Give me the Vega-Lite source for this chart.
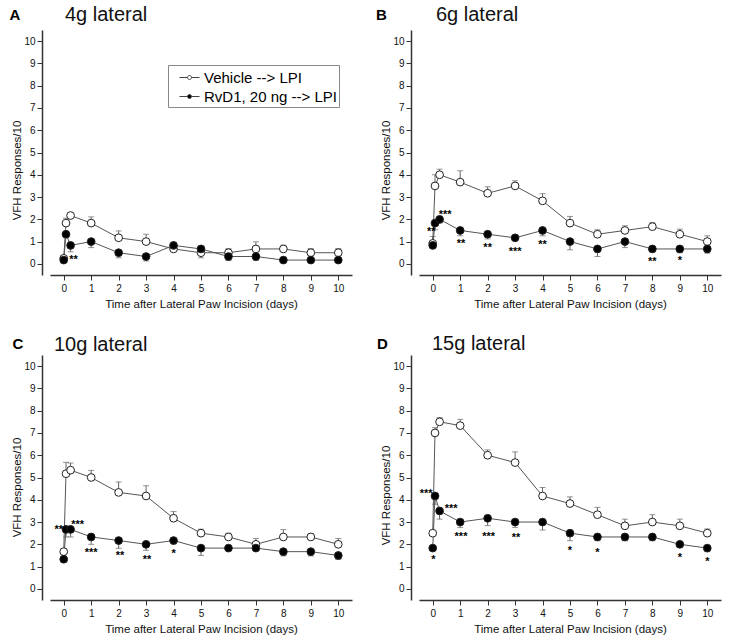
{
  "$schema": "https://vega.github.io/schema/vega-lite/v6.json",
  "padding": {"left": 9, "top": 4, "right": 5, "bottom": 5},
  "background": "white",
  "config": {
    "font": "Liberation Sans",
    "view": {"stroke": null},
    "axis": {
      "grid": false,
      "domainColor": "#333",
      "domainWidth": 1.5,
      "tickColor": "#333",
      "tickWidth": 1,
      "tickSize": 5,
      "labelFontSize": 10,
      "labelColor": "#111",
      "titleFontSize": 11.5,
      "titleFontWeight": "normal",
      "titleColor": "#111"
    }
  },
  "datasets": {
    "d": [
      {"panel": "A", "group": "Vehicle --> LPI", "day": 0, "v": 0.25, "e": 0.25},
      {"panel": "A", "group": "Vehicle --> LPI", "day": 0.083, "v": 1.83, "e": 2.05},
      {"panel": "A", "group": "Vehicle --> LPI", "day": 0.25, "v": 2.17, "e": 2.17},
      {"panel": "A", "group": "Vehicle --> LPI", "day": 1, "v": 1.83, "e": 2.11},
      {"panel": "A", "group": "Vehicle --> LPI", "day": 2, "v": 1.17, "e": 1.48},
      {"panel": "A", "group": "Vehicle --> LPI", "day": 3, "v": 1.0, "e": 1.33},
      {"panel": "A", "group": "Vehicle --> LPI", "day": 4, "v": 0.67, "e": 0.67},
      {"panel": "A", "group": "Vehicle --> LPI", "day": 5, "v": 0.5, "e": 0.5},
      {"panel": "A", "group": "Vehicle --> LPI", "day": 6, "v": 0.5, "e": 0.69},
      {"panel": "A", "group": "Vehicle --> LPI", "day": 7, "v": 0.67, "e": 0.99},
      {"panel": "A", "group": "Vehicle --> LPI", "day": 8, "v": 0.67, "e": 0.84},
      {"panel": "A", "group": "Vehicle --> LPI", "day": 9, "v": 0.5, "e": 0.69},
      {"panel": "A", "group": "Vehicle --> LPI", "day": 10, "v": 0.5, "e": 0.69},
      {"panel": "A", "group": "RvD1, 20 ng --> LPI", "day": 0, "v": 0.17, "e": 0.17},
      {"panel": "A", "group": "RvD1, 20 ng --> LPI", "day": 0.083, "v": 1.33, "e": 1.33},
      {"panel": "A", "group": "RvD1, 20 ng --> LPI", "day": 0.25, "v": 0.83, "e": 0.54},
      {"panel": "A", "group": "RvD1, 20 ng --> LPI", "day": 1, "v": 1.0, "e": 0.73},
      {"panel": "A", "group": "RvD1, 20 ng --> LPI", "day": 2, "v": 0.5, "e": 0.27},
      {"panel": "A", "group": "RvD1, 20 ng --> LPI", "day": 3, "v": 0.33, "e": 0.13},
      {"panel": "A", "group": "RvD1, 20 ng --> LPI", "day": 4, "v": 0.83, "e": 0.83},
      {"panel": "A", "group": "RvD1, 20 ng --> LPI", "day": 5, "v": 0.67, "e": 0.27},
      {"panel": "A", "group": "RvD1, 20 ng --> LPI", "day": 6, "v": 0.33, "e": 0.15},
      {"panel": "A", "group": "RvD1, 20 ng --> LPI", "day": 7, "v": 0.33, "e": 0.15},
      {"panel": "A", "group": "RvD1, 20 ng --> LPI", "day": 8, "v": 0.17, "e": 0.17},
      {"panel": "A", "group": "RvD1, 20 ng --> LPI", "day": 9, "v": 0.17, "e": 0.17},
      {"panel": "A", "group": "RvD1, 20 ng --> LPI", "day": 10, "v": 0.17, "e": 0.17},

      {"panel": "B", "group": "Vehicle --> LPI", "day": 0, "v": 0.92, "e": 1.23},
      {"panel": "B", "group": "Vehicle --> LPI", "day": 0.083, "v": 3.5, "e": 4.0},
      {"panel": "B", "group": "Vehicle --> LPI", "day": 0.25, "v": 4.0, "e": 4.25},
      {"panel": "B", "group": "Vehicle --> LPI", "day": 1, "v": 3.67, "e": 4.18},
      {"panel": "B", "group": "Vehicle --> LPI", "day": 2, "v": 3.17, "e": 3.46},
      {"panel": "B", "group": "Vehicle --> LPI", "day": 3, "v": 3.5, "e": 3.73},
      {"panel": "B", "group": "Vehicle --> LPI", "day": 4, "v": 2.83, "e": 3.15},
      {"panel": "B", "group": "Vehicle --> LPI", "day": 5, "v": 1.83, "e": 2.13},
      {"panel": "B", "group": "Vehicle --> LPI", "day": 6, "v": 1.33, "e": 1.53},
      {"panel": "B", "group": "Vehicle --> LPI", "day": 7, "v": 1.5, "e": 1.71},
      {"panel": "B", "group": "Vehicle --> LPI", "day": 8, "v": 1.67, "e": 1.86},
      {"panel": "B", "group": "Vehicle --> LPI", "day": 9, "v": 1.33, "e": 1.56},
      {"panel": "B", "group": "Vehicle --> LPI", "day": 10, "v": 1.0, "e": 1.26},
      {"panel": "B", "group": "RvD1, 20 ng --> LPI", "day": 0, "v": 0.83, "e": 0.83},
      {"panel": "B", "group": "RvD1, 20 ng --> LPI", "day": 0.083, "v": 1.83, "e": 1.53},
      {"panel": "B", "group": "RvD1, 20 ng --> LPI", "day": 0.25, "v": 2.0, "e": 1.83},
      {"panel": "B", "group": "RvD1, 20 ng --> LPI", "day": 1, "v": 1.5, "e": 1.26},
      {"panel": "B", "group": "RvD1, 20 ng --> LPI", "day": 2, "v": 1.33, "e": 1.12},
      {"panel": "B", "group": "RvD1, 20 ng --> LPI", "day": 3, "v": 1.17, "e": 1.17},
      {"panel": "B", "group": "RvD1, 20 ng --> LPI", "day": 4, "v": 1.5, "e": 1.26},
      {"panel": "B", "group": "RvD1, 20 ng --> LPI", "day": 5, "v": 1.0, "e": 0.63},
      {"panel": "B", "group": "RvD1, 20 ng --> LPI", "day": 6, "v": 0.67, "e": 0.33},
      {"panel": "B", "group": "RvD1, 20 ng --> LPI", "day": 7, "v": 1.0, "e": 0.73},
      {"panel": "B", "group": "RvD1, 20 ng --> LPI", "day": 8, "v": 0.67, "e": 0.67},
      {"panel": "B", "group": "RvD1, 20 ng --> LPI", "day": 9, "v": 0.67, "e": 0.5},
      {"panel": "B", "group": "RvD1, 20 ng --> LPI", "day": 10, "v": 0.67, "e": 0.48},

      {"panel": "C", "group": "Vehicle --> LPI", "day": 0, "v": 1.67, "e": 1.67},
      {"panel": "C", "group": "Vehicle --> LPI", "day": 0.083, "v": 5.17, "e": 5.68},
      {"panel": "C", "group": "Vehicle --> LPI", "day": 0.25, "v": 5.33, "e": 5.65},
      {"panel": "C", "group": "Vehicle --> LPI", "day": 1, "v": 5.0, "e": 5.32},
      {"panel": "C", "group": "Vehicle --> LPI", "day": 2, "v": 4.33, "e": 4.8},
      {"panel": "C", "group": "Vehicle --> LPI", "day": 3, "v": 4.17, "e": 4.63},
      {"panel": "C", "group": "Vehicle --> LPI", "day": 4, "v": 3.17, "e": 3.47},
      {"panel": "C", "group": "Vehicle --> LPI", "day": 5, "v": 2.5, "e": 2.68},
      {"panel": "C", "group": "Vehicle --> LPI", "day": 6, "v": 2.33, "e": 2.5},
      {"panel": "C", "group": "Vehicle --> LPI", "day": 7, "v": 2.0, "e": 2.26},
      {"panel": "C", "group": "Vehicle --> LPI", "day": 8, "v": 2.33, "e": 2.66},
      {"panel": "C", "group": "Vehicle --> LPI", "day": 9, "v": 2.33, "e": 2.48},
      {"panel": "C", "group": "Vehicle --> LPI", "day": 10, "v": 2.0, "e": 2.26},
      {"panel": "C", "group": "RvD1, 20 ng --> LPI", "day": 0, "v": 1.33, "e": 1.33},
      {"panel": "C", "group": "RvD1, 20 ng --> LPI", "day": 0.083, "v": 2.67, "e": 2.33},
      {"panel": "C", "group": "RvD1, 20 ng --> LPI", "day": 0.25, "v": 2.67, "e": 2.33},
      {"panel": "C", "group": "RvD1, 20 ng --> LPI", "day": 1, "v": 2.33, "e": 2.0},
      {"panel": "C", "group": "RvD1, 20 ng --> LPI", "day": 2, "v": 2.17, "e": 1.82},
      {"panel": "C", "group": "RvD1, 20 ng --> LPI", "day": 3, "v": 2.0, "e": 1.73},
      {"panel": "C", "group": "RvD1, 20 ng --> LPI", "day": 4, "v": 2.17, "e": 2.02},
      {"panel": "C", "group": "RvD1, 20 ng --> LPI", "day": 5, "v": 1.83, "e": 1.5},
      {"panel": "C", "group": "RvD1, 20 ng --> LPI", "day": 6, "v": 1.83, "e": 1.83},
      {"panel": "C", "group": "RvD1, 20 ng --> LPI", "day": 7, "v": 1.83, "e": 1.83},
      {"panel": "C", "group": "RvD1, 20 ng --> LPI", "day": 8, "v": 1.67, "e": 1.48},
      {"panel": "C", "group": "RvD1, 20 ng --> LPI", "day": 9, "v": 1.67, "e": 1.48},
      {"panel": "C", "group": "RvD1, 20 ng --> LPI", "day": 10, "v": 1.5, "e": 1.32},

      {"panel": "D", "group": "Vehicle --> LPI", "day": 0, "v": 2.5, "e": 2.5},
      {"panel": "D", "group": "Vehicle --> LPI", "day": 0.083, "v": 7.0, "e": 7.24},
      {"panel": "D", "group": "Vehicle --> LPI", "day": 0.25, "v": 7.5, "e": 7.69},
      {"panel": "D", "group": "Vehicle --> LPI", "day": 1, "v": 7.33, "e": 7.61},
      {"panel": "D", "group": "Vehicle --> LPI", "day": 2, "v": 6.0, "e": 6.24},
      {"panel": "D", "group": "Vehicle --> LPI", "day": 3, "v": 5.67, "e": 6.15},
      {"panel": "D", "group": "Vehicle --> LPI", "day": 4, "v": 4.17, "e": 4.55},
      {"panel": "D", "group": "Vehicle --> LPI", "day": 5, "v": 3.83, "e": 4.13},
      {"panel": "D", "group": "Vehicle --> LPI", "day": 6, "v": 3.33, "e": 3.66},
      {"panel": "D", "group": "Vehicle --> LPI", "day": 7, "v": 2.83, "e": 3.13},
      {"panel": "D", "group": "Vehicle --> LPI", "day": 8, "v": 3.0, "e": 3.33},
      {"panel": "D", "group": "Vehicle --> LPI", "day": 9, "v": 2.83, "e": 3.13},
      {"panel": "D", "group": "Vehicle --> LPI", "day": 10, "v": 2.5, "e": 2.69},
      {"panel": "D", "group": "RvD1, 20 ng --> LPI", "day": 0, "v": 1.83, "e": 1.83},
      {"panel": "D", "group": "RvD1, 20 ng --> LPI", "day": 0.083, "v": 4.17, "e": 3.8},
      {"panel": "D", "group": "RvD1, 20 ng --> LPI", "day": 0.25, "v": 3.5, "e": 3.13},
      {"panel": "D", "group": "RvD1, 20 ng --> LPI", "day": 1, "v": 3.0, "e": 2.76},
      {"panel": "D", "group": "RvD1, 20 ng --> LPI", "day": 2, "v": 3.17, "e": 2.84},
      {"panel": "D", "group": "RvD1, 20 ng --> LPI", "day": 3, "v": 3.0, "e": 2.76},
      {"panel": "D", "group": "RvD1, 20 ng --> LPI", "day": 4, "v": 3.0, "e": 2.64},
      {"panel": "D", "group": "RvD1, 20 ng --> LPI", "day": 5, "v": 2.5, "e": 2.16},
      {"panel": "D", "group": "RvD1, 20 ng --> LPI", "day": 6, "v": 2.33, "e": 2.16},
      {"panel": "D", "group": "RvD1, 20 ng --> LPI", "day": 7, "v": 2.33, "e": 2.16},
      {"panel": "D", "group": "RvD1, 20 ng --> LPI", "day": 8, "v": 2.33, "e": 2.16},
      {"panel": "D", "group": "RvD1, 20 ng --> LPI", "day": 9, "v": 2.0, "e": 1.87},
      {"panel": "D", "group": "RvD1, 20 ng --> LPI", "day": 10, "v": 1.83, "e": 1.67}
    ],
    "stars": [
      {"panel": "A", "day": 0.36, "y": 0.33, "s": "**"},
      {"panel": "B", "day": -0.05, "y": 1.55, "s": "**"},
      {"panel": "B", "day": 0.45, "y": 2.35, "s": "***"},
      {"panel": "B", "day": 1.03, "y": 1.03, "s": "**"},
      {"panel": "B", "day": 2.0, "y": 0.85, "s": "**"},
      {"panel": "B", "day": 3.0, "y": 0.67, "s": "***"},
      {"panel": "B", "day": 4.0, "y": 1.0, "s": "**"},
      {"panel": "B", "day": 8.0, "y": 0.2, "s": "**"},
      {"panel": "B", "day": 9.0, "y": 0.25, "s": "*"},
      {"panel": "C", "day": -0.18, "y": 2.78, "s": "**"},
      {"panel": "C", "day": 0.51, "y": 3.0, "s": "***"},
      {"panel": "C", "day": 1.0, "y": 1.74, "s": "***"},
      {"panel": "C", "day": 2.05, "y": 1.59, "s": "**"},
      {"panel": "C", "day": 3.03, "y": 1.41, "s": "**"},
      {"panel": "C", "day": 4.0, "y": 1.69, "s": "*"},
      {"panel": "D", "day": -0.24, "y": 4.4, "s": "***"},
      {"panel": "D", "day": 0.67, "y": 3.73, "s": "***"},
      {"panel": "D", "day": 0.02, "y": 1.42, "s": "*"},
      {"panel": "D", "day": 1.03, "y": 2.46, "s": "***"},
      {"panel": "D", "day": 2.04, "y": 2.46, "s": "***"},
      {"panel": "D", "day": 3.03, "y": 2.43, "s": "**"},
      {"panel": "D", "day": 5.0, "y": 1.82, "s": "*"},
      {"panel": "D", "day": 6.0, "y": 1.75, "s": "*"},
      {"panel": "D", "day": 9.0, "y": 1.52, "s": "*"},
      {"panel": "D", "day": 10.0, "y": 1.34, "s": "*"}
    ],
    "letters": [
      {"panel": "A", "t": "A"},
      {"panel": "B", "t": "B"},
      {"panel": "C", "t": "C"},
      {"panel": "D", "t": "D"}
    ]
  },
  "data": {"name": "d"},
  "columns": 2,
  "bounds": "flush",
  "spacing": {"row": 80, "column": 67},
  "resolve": {"scale": {"fill": "independent"}, "legend": {"fill": "independent"}},
  "concat": [
    {
      "width": 302, "height": 245,
      "title": {"text": "4g lateral", "anchor": "start", "frame": "group", "dx": 15, "fontSize": 20, "fontWeight": "normal", "baseline": "alphabetic", "offset": -33, "color": "#111"},
      "transform": [{"filter": "datum.panel === 'A'"}],
      "layer": [
        {
          "encoding": {
            "x": {"field": "day", "type": "quantitative", "scale": {"domain": [-0.5, 10.5], "nice": false, "zero": false}, "axis": {"values": [0,1,2,3,4,5,6,7,8,9,10], "title": "Time after Lateral Paw Incision (days)", "labelPadding": 3, "titlePadding": 5}},
            "y": {"field": "v", "type": "quantitative", "scale": {"domain": [-0.5, 10.5], "nice": false, "zero": false}, "axis": {"values": [0,1,2,3,4,5,6,7,8,9,10], "title": "VFH Responses/10", "offset": 8, "labelPadding": 2, "titlePadding": 1, "titleY": 140}}
          },
          "layer": [
            {"mark": {"type": "rule", "color": "#666", "strokeWidth": 1}, "encoding": {"y2": {"field": "e"}, "detail": {"field": "group"}}},
            {"mark": {"type": "tick", "orient": "horizontal", "color": "#666", "size": 6, "thickness": 1}, "encoding": {"y": {"field": "e", "type": "quantitative"}}},
            {"mark": {"type": "line", "color": "#555", "strokeWidth": 1}, "encoding": {"detail": {"field": "group"}}},
            {"mark": {"type": "point", "shape": "circle", "filled": true, "size": 60, "stroke": "#222", "strokeWidth": 1, "opacity": 1},
             "encoding": {"fill": {"field": "group", "type": "nominal", "scale": {"domain": ["Vehicle --> LPI", "RvD1, 20 ng --> LPI"], "range": ["white", "black"]},
               "legend": {"title": null, "orient": "none", "legendX": 118, "legendY": 35, "symbolType": "M-1,0L-0.2,0M0.2,0L1,0M0.2,0A0.2,0.2,0,1,1,-0.2,0A0.2,0.2,0,1,1,0.2,0", "symbolSize": 400, "symbolOffset": 9, "symbolStrokeColor": "#444", "symbolStrokeWidth": 1, "labelFontSize": 15, "labelColor": "#000", "strokeColor": "#888", "fillColor": "white", "padding": 2, "rowPadding": 0, "labelOffset": 4}}}},
            {"data": {"name": "stars"}, "transform": [{"filter": "datum.panel === 'A'"}], "mark": {"type": "text", "fontSize": 11, "fontWeight": "bold", "baseline": "middle", "dy": 3, "fill": "#000"}, "encoding": {"y": {"field": "y", "type": "quantitative"}, "text": {"field": "s", "type": "nominal"}}}
          ]
        },
        {"data": {"name": "letters"}, "transform": [{"filter": "datum.panel === 'A'"}], "mark": {"type": "text", "fontSize": 15, "fontWeight": "bold", "baseline": "alphabetic", "align": "center", "fill": "#000"},
         "encoding": {
           "x": {"datum": -1.78, "type": "quantitative", "scale": {"domain": [-0.5, 10.5], "nice": false, "zero": false}, "axis": {"values": [0,1,2,3,4,5,6,7,8,9,10], "title": "Time after Lateral Paw Incision (days)", "labelPadding": 3, "titlePadding": 5}},
           "y": {"datum": 10.97, "type": "quantitative", "scale": {"domain": [-0.5, 10.5], "nice": false, "zero": false}, "axis": {"values": [0,1,2,3,4,5,6,7,8,9,10], "title": "VFH Responses/10", "offset": 8, "labelPadding": 2, "titlePadding": 1, "titleY": 140}},
           "text": {"field": "t", "type": "nominal"}}}
      ]
    },
    {
      "width": 302, "height": 245,
      "title": {"text": "6g lateral", "anchor": "start", "frame": "group", "dx": 17, "fontSize": 20, "fontWeight": "normal", "baseline": "alphabetic", "offset": -33, "color": "#111"},
      "transform": [{"filter": "datum.panel === 'B'"}],
      "layer": [
        {
          "encoding": {
            "x": {"field": "day", "type": "quantitative", "scale": {"domain": [-0.5, 10.5], "nice": false, "zero": false}, "axis": {"values": [0,1,2,3,4,5,6,7,8,9,10], "title": "Time after Lateral Paw Incision (days)", "labelPadding": 3, "titlePadding": 5}},
            "y": {"field": "v", "type": "quantitative", "scale": {"domain": [-0.5, 10.5], "nice": false, "zero": false}, "axis": {"values": [0,1,2,3,4,5,6,7,8,9,10], "title": "VFH Responses/10", "offset": 8, "labelPadding": 2, "titlePadding": 1, "titleY": 140}}
          },
          "layer": [
            {"mark": {"type": "rule", "color": "#666", "strokeWidth": 1}, "encoding": {"y2": {"field": "e"}, "detail": {"field": "group"}}},
            {"mark": {"type": "tick", "orient": "horizontal", "color": "#666", "size": 6, "thickness": 1}, "encoding": {"y": {"field": "e", "type": "quantitative"}}},
            {"mark": {"type": "line", "color": "#555", "strokeWidth": 1}, "encoding": {"detail": {"field": "group"}}},
            {"mark": {"type": "point", "shape": "circle", "filled": true, "size": 60, "stroke": "#222", "strokeWidth": 1, "opacity": 1},
             "encoding": {"fill": {"field": "group", "type": "nominal", "scale": {"domain": ["Vehicle --> LPI", "RvD1, 20 ng --> LPI"], "range": ["white", "black"]}, "legend": null}}},
            {"data": {"name": "stars"}, "transform": [{"filter": "datum.panel === 'B'"}], "mark": {"type": "text", "fontSize": 11, "fontWeight": "bold", "baseline": "middle", "dy": 3, "fill": "#000"}, "encoding": {"y": {"field": "y", "type": "quantitative"}, "text": {"field": "s", "type": "nominal"}}}
          ]
        },
        {"data": {"name": "letters"}, "transform": [{"filter": "datum.panel === 'B'"}], "mark": {"type": "text", "fontSize": 15, "fontWeight": "bold", "baseline": "alphabetic", "align": "center", "fill": "#000"},
         "encoding": {
           "x": {"datum": -1.87, "type": "quantitative", "scale": {"domain": [-0.5, 10.5], "nice": false, "zero": false}, "axis": {"values": [0,1,2,3,4,5,6,7,8,9,10], "title": "Time after Lateral Paw Incision (days)", "labelPadding": 3, "titlePadding": 5}},
           "y": {"datum": 10.93, "type": "quantitative", "scale": {"domain": [-0.5, 10.5], "nice": false, "zero": false}, "axis": {"values": [0,1,2,3,4,5,6,7,8,9,10], "title": "VFH Responses/10", "offset": 8, "labelPadding": 2, "titlePadding": 1, "titleY": 140}},
           "text": {"field": "t", "type": "nominal"}}}
      ]
    },
    {
      "width": 302, "height": 245,
      "title": {"text": "10g lateral", "anchor": "start", "frame": "group", "dx": 4, "fontSize": 20, "fontWeight": "normal", "baseline": "alphabetic", "offset": -34, "color": "#111"},
      "transform": [{"filter": "datum.panel === 'C'"}],
      "layer": [
        {
          "encoding": {
            "x": {"field": "day", "type": "quantitative", "scale": {"domain": [-0.5, 10.5], "nice": false, "zero": false}, "axis": {"values": [0,1,2,3,4,5,6,7,8,9,10], "title": "Time after Lateral Paw Incision (days)", "labelPadding": 3, "titlePadding": 5}},
            "y": {"field": "v", "type": "quantitative", "scale": {"domain": [-0.5, 10.5], "nice": false, "zero": false}, "axis": {"values": [0,1,2,3,4,5,6,7,8,9,10], "title": "VFH Responses/10", "offset": 8, "labelPadding": 2, "titlePadding": 1, "titleY": 132}}
          },
          "layer": [
            {"mark": {"type": "rule", "color": "#666", "strokeWidth": 1}, "encoding": {"y2": {"field": "e"}, "detail": {"field": "group"}}},
            {"mark": {"type": "tick", "orient": "horizontal", "color": "#666", "size": 6, "thickness": 1}, "encoding": {"y": {"field": "e", "type": "quantitative"}}},
            {"mark": {"type": "line", "color": "#555", "strokeWidth": 1}, "encoding": {"detail": {"field": "group"}}},
            {"mark": {"type": "point", "shape": "circle", "filled": true, "size": 60, "stroke": "#222", "strokeWidth": 1, "opacity": 1},
             "encoding": {"fill": {"field": "group", "type": "nominal", "scale": {"domain": ["Vehicle --> LPI", "RvD1, 20 ng --> LPI"], "range": ["white", "black"]}, "legend": null}}},
            {"data": {"name": "stars"}, "transform": [{"filter": "datum.panel === 'C'"}], "mark": {"type": "text", "fontSize": 11, "fontWeight": "bold", "baseline": "middle", "dy": 3, "fill": "#000"}, "encoding": {"y": {"field": "y", "type": "quantitative"}, "text": {"field": "s", "type": "nominal"}}}
          ]
        },
        {"data": {"name": "letters"}, "transform": [{"filter": "datum.panel === 'C'"}], "mark": {"type": "text", "fontSize": 15, "fontWeight": "bold", "baseline": "alphabetic", "align": "center", "fill": "#000"},
         "encoding": {
           "x": {"datum": -1.67, "type": "quantitative", "scale": {"domain": [-0.5, 10.5], "nice": false, "zero": false}, "axis": {"values": [0,1,2,3,4,5,6,7,8,9,10], "title": "Time after Lateral Paw Incision (days)", "labelPadding": 3, "titlePadding": 5}},
           "y": {"datum": 10.75, "type": "quantitative", "scale": {"domain": [-0.5, 10.5], "nice": false, "zero": false}, "axis": {"values": [0,1,2,3,4,5,6,7,8,9,10], "title": "VFH Responses/10", "offset": 8, "labelPadding": 2, "titlePadding": 1, "titleY": 132}},
           "text": {"field": "t", "type": "nominal"}}}
      ]
    },
    {
      "width": 302, "height": 245,
      "title": {"text": "15g lateral", "anchor": "start", "frame": "group", "dx": 13, "fontSize": 20, "fontWeight": "normal", "baseline": "alphabetic", "offset": -33, "color": "#111"},
      "transform": [{"filter": "datum.panel === 'D'"}],
      "layer": [
        {
          "encoding": {
            "x": {"field": "day", "type": "quantitative", "scale": {"domain": [-0.5, 10.5], "nice": false, "zero": false}, "axis": {"values": [0,1,2,3,4,5,6,7,8,9,10], "title": "Time after Lateral Paw Incision (days)", "labelPadding": 3, "titlePadding": 5}},
            "y": {"field": "v", "type": "quantitative", "scale": {"domain": [-0.5, 10.5], "nice": false, "zero": false}, "axis": {"values": [0,1,2,3,4,5,6,7,8,9,10], "title": "VFH Responses/10", "offset": 8, "labelPadding": 2, "titlePadding": 1, "titleY": 140}}
          },
          "layer": [
            {"mark": {"type": "rule", "color": "#666", "strokeWidth": 1}, "encoding": {"y2": {"field": "e"}, "detail": {"field": "group"}}},
            {"mark": {"type": "tick", "orient": "horizontal", "color": "#666", "size": 6, "thickness": 1}, "encoding": {"y": {"field": "e", "type": "quantitative"}}},
            {"mark": {"type": "line", "color": "#555", "strokeWidth": 1}, "encoding": {"detail": {"field": "group"}}},
            {"mark": {"type": "point", "shape": "circle", "filled": true, "size": 60, "stroke": "#222", "strokeWidth": 1, "opacity": 1},
             "encoding": {"fill": {"field": "group", "type": "nominal", "scale": {"domain": ["Vehicle --> LPI", "RvD1, 20 ng --> LPI"], "range": ["white", "black"]}, "legend": null}}},
            {"data": {"name": "stars"}, "transform": [{"filter": "datum.panel === 'D'"}], "mark": {"type": "text", "fontSize": 11, "fontWeight": "bold", "baseline": "middle", "dy": 3, "fill": "#000"}, "encoding": {"y": {"field": "y", "type": "quantitative"}, "text": {"field": "s", "type": "nominal"}}}
          ]
        },
        {"data": {"name": "letters"}, "transform": [{"filter": "datum.panel === 'D'"}], "mark": {"type": "text", "fontSize": 15, "fontWeight": "bold", "baseline": "alphabetic", "align": "center", "fill": "#000"},
         "encoding": {
           "x": {"datum": -1.83, "type": "quantitative", "scale": {"domain": [-0.5, 10.5], "nice": false, "zero": false}, "axis": {"values": [0,1,2,3,4,5,6,7,8,9,10], "title": "Time after Lateral Paw Incision (days)", "labelPadding": 3, "titlePadding": 5}},
           "y": {"datum": 10.75, "type": "quantitative", "scale": {"domain": [-0.5, 10.5], "nice": false, "zero": false}, "axis": {"values": [0,1,2,3,4,5,6,7,8,9,10], "title": "VFH Responses/10", "offset": 8, "labelPadding": 2, "titlePadding": 1, "titleY": 140}},
           "text": {"field": "t", "type": "nominal"}}}
      ]
    }
  ]
}
